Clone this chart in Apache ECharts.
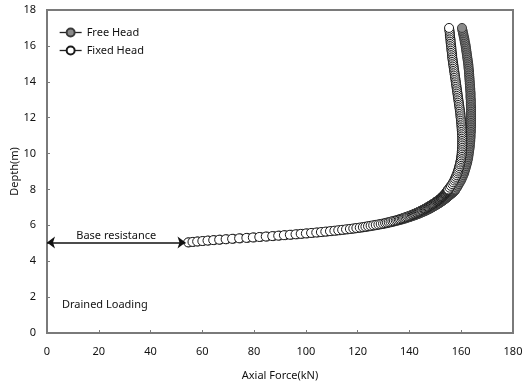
<!DOCTYPE html>
<html>
<head>
<meta charset="utf-8">
<script src="https://cdn.jsdelivr.net/npm/echarts@6/dist/echarts.min.js"></script>
<style>
  html, body { margin: 0; padding: 0; background: #fff; }
  #chart { width: 522px; height: 387px; }
</style>
</head>
<body>
<div id="chart"></div>
<script>
// Depth (m) along the pile where axial force is reported
const depths = [
  5.050, 5.075, 5.100, 5.125, 5.150, 5.175, 5.200, 5.225, 5.250, 5.275,
  5.300, 5.325, 5.350, 5.375, 5.400, 5.425, 5.450, 5.475, 5.500, 5.525,
  5.550, 5.575, 5.600, 5.625, 5.650, 5.675, 5.700, 5.725, 5.750, 5.775,
  5.800, 5.825, 5.850, 5.875, 5.900, 5.925, 5.950, 5.975, 6.000, 6.025,
  6.050, 6.075, 6.100, 6.125, 6.150, 6.175, 6.200, 6.225, 6.250, 6.275,
  6.300, 6.325, 6.350, 6.375, 6.400, 6.425, 6.450, 6.475, 6.500, 6.525,
  6.550, 6.575, 6.600, 6.625, 6.650, 6.675, 6.700, 6.725, 6.750, 6.775,
  6.800, 6.825, 6.850, 6.875, 6.900, 6.925, 6.950, 6.975, 7.000, 7.025,
  7.050, 7.075, 7.100, 7.125, 7.150, 7.175, 7.200, 7.225, 7.250, 7.275,
  7.300, 7.325, 7.350, 7.375, 7.400, 7.425, 7.450, 7.475, 7.500, 7.525,
  7.550, 7.575, 7.600, 7.625, 7.650, 7.675, 7.700, 7.725, 7.750, 7.775,
  7.800, 7.825, 7.850, 7.875, 7.900, 7.925, 7.950, 7.975, 8.000,
  8.1, 8.2, 8.3, 8.4, 8.5, 8.6, 8.7, 8.8, 8.9, 9.0,
  9.1, 9.2, 9.3, 9.4, 9.5, 9.6, 9.7, 9.8, 9.9, 10.0,
  10.1, 10.2, 10.3, 10.4, 10.5, 10.6, 10.7, 10.8, 10.9, 11.0,
  11.1, 11.2, 11.3, 11.4, 11.5, 11.6, 11.7, 11.8, 11.9, 12.0,
  12.1, 12.2, 12.3, 12.4, 12.5, 12.6, 12.7, 12.8, 12.9, 13.0,
  13.1, 13.2, 13.3, 13.4, 13.5, 13.6, 13.7, 13.8, 13.9, 14.0,
  14.1, 14.2, 14.3, 14.4, 14.5, 14.6, 14.7, 14.8, 14.9, 15.0,
  15.1, 15.2, 15.3, 15.4, 15.5, 15.6, 15.7, 15.8, 15.9, 16.0,
  16.1, 16.2, 16.3, 16.4, 16.5, 16.6, 16.7, 16.8, 16.9, 17.0
];

// Axial force (kN), free-head pile
const freeHead = [
  54.8, 56.5, 58.3, 60.3, 62.4, 64.6, 66.9, 69.4, 72.0, 74.7,
  77.5, 80.0, 82.5, 85.0, 87.5, 89.8, 92.1, 94.4, 96.6, 98.6,
  100.6, 102.6, 104.6, 106.4, 108.2, 110.0, 111.7, 113.2, 114.7, 116.2,
  117.7, 119.0, 120.3, 121.6, 122.8, 123.8, 124.8, 125.8, 126.8, 127.8,
  128.8, 129.8, 130.7, 131.5, 132.2, 133.0, 133.7, 134.4, 135.0, 135.7,
  136.4, 137.0, 137.6, 138.2, 138.7, 139.2, 139.8, 140.3, 140.8, 141.3,
  141.8, 142.3, 142.7, 143.2, 143.6, 144.0, 144.4, 144.8, 145.2, 145.6,
  146.0, 146.4, 146.7, 147.1, 147.4, 147.8, 148.1, 148.4, 148.7, 149.0,
  149.3, 149.6, 149.9, 150.2, 150.5, 150.8, 151.1, 151.3, 151.6, 151.9,
  152.1, 152.4, 152.6, 152.9, 153.1, 153.4, 153.6, 153.8, 154.0, 154.2,
  154.5, 154.7, 154.9, 155.1, 155.3, 155.5, 155.7, 155.9, 156.1, 156.3,
  156.5, 156.7, 156.9, 157.1, 157.3, 157.4, 157.5, 157.7, 157.8,
  158.3, 158.7, 159.1, 159.5, 159.9, 160.2, 160.5, 160.8, 161.1, 161.3,
  161.5, 161.7, 161.9, 162.1, 162.3, 162.4, 162.6, 162.7, 162.8, 162.9,
  163.0, 163.1, 163.2, 163.3, 163.3, 163.4, 163.5, 163.5, 163.6, 163.6,
  163.6, 163.7, 163.7, 163.7, 163.8, 163.8, 163.8, 163.8, 163.8, 163.8,
  163.8, 163.8, 163.8, 163.8, 163.8, 163.8, 163.7, 163.7, 163.7, 163.7,
  163.6, 163.6, 163.6, 163.6, 163.5, 163.5, 163.4, 163.4, 163.3, 163.3,
  163.2, 163.2, 163.1, 163.1, 163.0, 163.0, 162.9, 162.8, 162.8, 162.7,
  162.6, 162.5, 162.4, 162.3, 162.2, 162.1, 162.0, 161.9, 161.8, 161.7,
  161.6, 161.4, 161.3, 161.2, 161.0, 160.9, 160.7, 160.6, 160.4, 160.3
];

// Axial force (kN), fixed-head pile
const fixedHead = [
  54.5, 56.2, 58.0, 60.0, 62.0, 64.2, 66.5, 69.0, 71.5, 74.2,
  77.0, 79.5, 82.0, 84.5, 87.0, 89.3, 91.5, 93.8, 96.0, 98.0,
  100.0, 102.0, 104.0, 105.8, 107.5, 109.3, 111.0, 112.5, 114.0, 115.5,
  117.0, 118.3, 119.5, 120.8, 122.0, 123.0, 124.0, 125.0, 126.0, 127.0,
  128.0, 128.9, 129.8, 130.6, 131.3, 132.0, 132.7, 133.4, 134.0, 134.7,
  135.3, 135.9, 136.4, 137.0, 137.5, 138.0, 138.5, 139.0, 139.5, 140.0,
  140.4, 140.9, 141.3, 141.7, 142.1, 142.5, 142.9, 143.3, 143.6, 144.0,
  144.3, 144.7, 145.0, 145.4, 145.7, 146.0, 146.3, 146.6, 146.9, 147.2,
  147.5, 147.8, 148.1, 148.3, 148.6, 148.9, 149.2, 149.4, 149.7, 149.9,
  150.2, 150.4, 150.7, 150.9, 151.2, 151.4, 151.6, 151.9, 152.1, 152.2,
  152.4, 152.6, 152.8, 152.9, 153.1, 153.3, 153.5, 153.6, 153.8, 153.9,
  154.1, 154.2, 154.4, 154.5, 154.6, 154.7, 154.8, 154.9, 155.0,
  155.5, 156.0, 156.5, 156.9, 157.3, 157.6, 157.9, 158.2, 158.5, 158.7,
  158.9, 159.1, 159.3, 159.5, 159.6, 159.8, 159.9, 160.0, 160.1, 160.2,
  160.2, 160.3, 160.3, 160.4, 160.4, 160.4, 160.4, 160.4, 160.4, 160.4,
  160.3, 160.3, 160.2, 160.2, 160.1, 160.1, 160.0, 160.0, 159.9, 159.8,
  159.7, 159.7, 159.6, 159.5, 159.4, 159.3, 159.2, 159.1, 159.0, 158.9,
  158.8, 158.7, 158.6, 158.5, 158.4, 158.3, 158.2, 158.1, 158.0, 157.9,
  157.8, 157.7, 157.6, 157.5, 157.4, 157.3, 157.2, 157.1, 157.0, 156.9,
  156.8, 156.7, 156.6, 156.5, 156.5, 156.4, 156.3, 156.2, 156.2, 156.1,
  156.0, 155.9, 155.9, 155.8, 155.7, 155.6, 155.6, 155.5, 155.4, 155.3
];

// Pile-tip base resistance shown as a dimension arrow from zero force
const baseResistanceDepth = 5.05;
const baseResistanceForce = 53.5;

const xTicks = { min: 0, max: 180, interval: 20 };
const yTicks = { min: 0, max: 18, interval: 2 };

const FONT = 'Noto Sans';
const axisGray = '#7a7a7a';

const chart = echarts.init(document.getElementById('chart'));

function pairs(xs) {
  return xs.map((v, i) => [v, depths[i]]);
}

chart.setOption({
  animation: false,
  backgroundColor: '#ffffff',
  textStyle: { fontFamily: FONT },
  grid: {
    left: 47, right: 9, top: 10, bottom: 54,
    outerBoundsMode: 'none', containLabel: false,
    show: true, borderColor: axisGray, borderWidth: 2, backgroundColor: 'transparent'
  },
  legend: {
    left: 54, top: 22, orient: 'vertical', itemGap: 7,
    itemWidth: 22, itemHeight: 10,
    textStyle: { fontFamily: FONT, fontSize: 11, color: '#111' },
    lineStyle: { width: 1.3, color: '#222', opacity: 1 },
    data: ['Free Head', 'Fixed Head']
  },
  xAxis: {
    type: 'value', min: xTicks.min, max: xTicks.max, interval: xTicks.interval,
    name: 'Axial Force(kN)', nameLocation: 'middle', nameGap: 37, nameMoveOverlap: false,
    nameTextStyle: { fontFamily: FONT, fontSize: 11, color: '#111' },
    axisLine: { show: true, lineStyle: { color: axisGray, width: 2 } },
    axisTick: { show: true, inside: true, length: 3, lineStyle: { color: axisGray } },
    axisLabel: { fontFamily: FONT, fontSize: 11, color: '#111', margin: 13 },
    splitLine: { show: false }
  },
  yAxis: {
    type: 'value', min: yTicks.min, max: yTicks.max, interval: yTicks.interval,
    name: 'Depth(m)', nameLocation: 'middle', nameGap: 27, nameRotate: 90, nameMoveOverlap: false,
    nameTextStyle: { fontFamily: FONT, fontSize: 11, color: '#111' },
    axisLine: { show: true, lineStyle: { color: axisGray, width: 2 } },
    axisTick: { show: true, inside: true, length: 3, lineStyle: { color: axisGray } },
    axisLabel: { fontFamily: FONT, fontSize: 11, color: '#111', margin: 11 },
    splitLine: { show: false }
  },
  series: [
    {
      name: 'Free Head',
      type: 'line',
      data: pairs(freeHead),
      symbol: 'circle', symbolSize: 9, showAllSymbol: true,
      lineStyle: { width: 0, opacity: 0 },
      itemStyle: { color: '#8a8a8a', borderColor: '#3a3a3a', borderWidth: 1 },
      emphasis: { disabled: true }
    },
    {
      name: 'Fixed Head',
      type: 'line',
      data: pairs(fixedHead),
      symbol: 'circle', symbolSize: 9, showAllSymbol: true,
      lineStyle: { width: 0, opacity: 0 },
      itemStyle: { color: '#ffffff', borderColor: '#1a1a1a', borderWidth: 1 },
      emphasis: { disabled: true },
      markLine: {
        silent: true,
        symbol: ['arrow', 'arrow'], symbolSize: [9, 8],
        lineStyle: { color: '#111', width: 1.5, type: 'solid' },
        label: {
          show: true, position: 'middle', formatter: 'Base resistance',
          fontFamily: FONT, fontSize: 11, color: '#111', distance: 1
        },
        data: [[
          { coord: [0, baseResistanceDepth] },
          { coord: [baseResistanceForce, baseResistanceDepth] }
        ]]
      }
    }
  ],
  graphic: [
    {
      type: 'text', left: 62, top: 299,
      style: { text: 'Drained Loading', fontFamily: FONT, fontSize: 11, fill: '#111' }
    }
  ]
});
</script>
</body>
</html>
